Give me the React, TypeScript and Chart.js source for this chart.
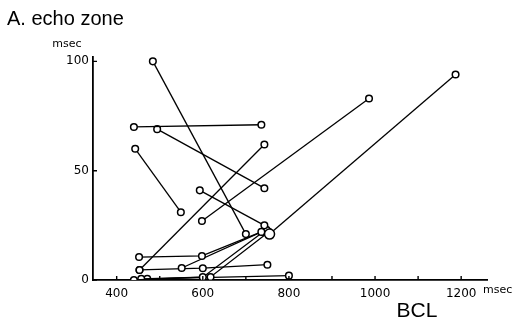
import React, { useEffect, useRef } from "react";
import { Chart, registerables } from "chart.js";

Chart.register(...registerables);

// Each patient: [BCL (msec), echo zone (msec)] pairs, joined by a line
const patientA = [[484, 100], [700, 21]];
const patientB = [[440, 70], [736, 71]];
const patientC = [[494, 69], [743, 42]];
const patientD = [[443, 60], [549, 31]];
const patientE = [[743, 62], [453, 4.6]];
const patientF = [[598, 27], [986, 83]];
const patientG = [[593, 41], [743, 25]];
const patientH = [[1187, 94], [755, 21]];
const patientI = [[452, 10.5], [598, 11], [736, 22]];
const patientJ = [[551, 5.5], [748, 23]];
const patientK = [[453, 4.6], [600, 5.4], [750, 7]];
const patientL = [[440, 0], [600, 1.3], [740, 22]];
const patientM = [[457, 0.5], [618, 1.4], [753, 22]];
const patientN = [[471, 0.5], [800, 2]];

const patients = [
  patientA, patientB, patientC, patientD, patientE, patientF, patientG,
  patientH, patientI, patientJ, patientK, patientL, patientM, patientN,
];

const xTickValues = [400, 500, 600, 700, 800, 900, 1000, 1100, 1200];
const xLabelValues = [400, 600, 800, 1000, 1200];
const yTickValues = [0, 50, 100];

const extrasPlugin = {
  id: "extras",
  afterDraw(chart: any) {
    const { ctx, chartArea, scales } = chart;
    const x = scales.x;
    const y = scales.y;
    ctx.save();
    ctx.strokeStyle = "#000";
    ctx.lineWidth = 1.4;
    ctx.beginPath();
    for (const v of xTickValues) {
      const px = x.getPixelForValue(v);
      ctx.moveTo(px, chartArea.bottom);
      ctx.lineTo(px, chartArea.bottom - 4);
    }
    for (const v of yTickValues) {
      const py = y.getPixelForValue(v);
      ctx.moveTo(chartArea.left, py);
      ctx.lineTo(chartArea.left + 4, py);
    }
    ctx.stroke();

    ctx.fillStyle = "#000";
    ctx.textBaseline = "alphabetic";
    ctx.font = '20px "Liberation Sans"';
    ctx.textAlign = "left";
    ctx.fillText("A. echo zone", 7, 25);
    ctx.font = '11px "DejaVu Sans"';
    ctx.textAlign = "center";
    ctx.fillText("msec", 67, 47);
    ctx.textAlign = "left";
    ctx.fillText("msec", 483, 293);
    ctx.font = '21px "Liberation Sans"';
    ctx.textAlign = "center";
    ctx.fillText("BCL", 417, 317);
    ctx.restore();
  },
};

export default function App() {
  const ref = useRef<HTMLCanvasElement | null>(null);

  useEffect(() => {
    if (!ref.current) return;
    const datasets = patients.map((p, i) => ({
      label: "patient " + (i + 1),
      data: p.map(([bx, ez]) => ({ x: bx, y: ez })),
      borderColor: "#000",
      borderWidth: 1.3,
      pointRadius: p.map((_, j) => (i === 7 && j === p.length - 1 ? 5 : 3.3)),
      pointBorderWidth: 1.5,
      pointBackgroundColor: "#fff",
      pointBorderColor: "#000",
      showLine: true,
      fill: false,
      tension: 0,
    }));

    const chart = new Chart(ref.current, {
      type: "scatter",
      data: { datasets },
      options: {
        animation: false,
        responsive: false,
        layout: { padding: { left: 0, top: 57, right: 30, bottom: 0 } },
        plugins: {
          legend: { display: false },
          tooltip: { enabled: false },
          title: { display: false },
        },
        scales: {
          x: {
            type: "linear",
            min: 345,
            max: 1260,
            afterBuildTicks: (scale: any) => {
              scale.ticks = xTickValues.map((v) => ({ value: v }));
            },
            afterFit: (scale: any) => {
              scale.height = 46;
            },
            grid: { display: false, drawTicks: false },
            border: { display: true, color: "#000", width: 1.8 },
            ticks: {
              autoSkip: false,
              maxRotation: 0,
              padding: 7,
              color: "#000",
              font: { family: "DejaVu Sans", size: 12 },
              callback: (v: any) => (xLabelValues.includes(Number(v)) ? String(v) : ""),
            },
          },
          y: {
            type: "linear",
            min: 0,
            max: 102,
            afterBuildTicks: (scale: any) => {
              scale.ticks = yTickValues.map((v) => ({ value: v }));
            },
            afterFit: (scale: any) => {
              scale.width = 93;
            },
            grid: { display: false, drawTicks: false },
            border: { display: true, color: "#000", width: 1.8 },
            ticks: {
              padding: 4,
              color: "#000",
              font: { family: "DejaVu Sans", size: 12 },
              callback: (v: any) => String(v),
            },
          },
        },
      },
      plugins: [extrasPlugin],
    });
    return () => chart.destroy();
  }, []);

  return (
    <div style={{ position: "fixed", left: 0, top: 0, width: 517, height: 326, background: "#fff" }}>
      <canvas ref={ref} width={517} height={326} style={{ width: 517, height: 326, display: "block" }} />
    </div>
  );
}
